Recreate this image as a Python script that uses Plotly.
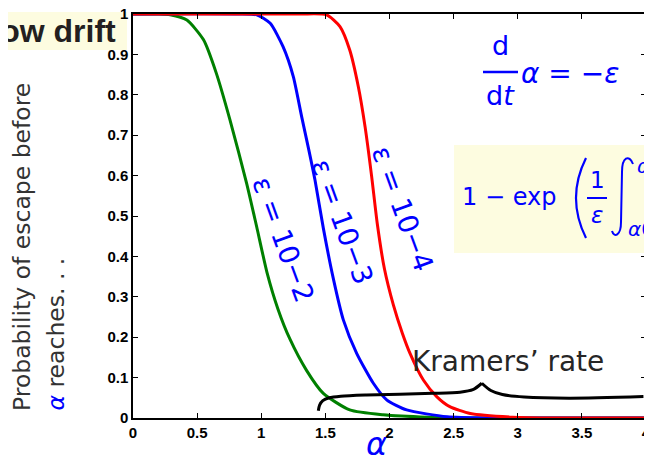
import plotly.graph_objects as go

# ---------------- data ----------------
green_x = [0, 0.2, 0.29, 0.42, 0.55, 0.65, 0.756, 0.886, 0.964, 1.045, 1.13, 1.224, 1.353, 1.484, 1.69, 1.95, 2.3, 2.7, 4.0]
green_y = [1, 1, 0.998, 0.985, 0.936, 0.853, 0.738, 0.581, 0.474, 0.36, 0.27, 0.195, 0.118, 0.061, 0.020, 0.008, 0.002, 0.0, 0.0]

blue_x = [0, 0.8, 0.965, 1.07, 1.17, 1.25, 1.315, 1.37, 1.419, 1.484, 1.562, 1.64, 1.744, 1.874, 1.978, 2.134, 2.45, 2.8, 4.0]
blue_y = [1, 1, 0.998, 0.977, 0.919, 0.845, 0.746, 0.665, 0.589, 0.47, 0.345, 0.243, 0.160, 0.086, 0.045, 0.020, 0.003, 0.0, 0.0]

red_x = [0, 1.3, 1.51, 1.614, 1.69, 1.757, 1.81, 1.86, 1.905, 1.96, 2.03, 2.10, 2.16, 2.264, 2.368, 2.47, 2.63, 2.96, 3.3, 4.0]
red_y = [1, 1, 0.998, 0.969, 0.911, 0.820, 0.72, 0.60, 0.48, 0.37, 0.28, 0.21, 0.16, 0.094, 0.053, 0.028, 0.011, 0.002, 0.0, 0.0]

brace_left_x = [1.445, 1.455, 1.48, 1.53, 1.62, 1.82, 2.34, 2.55, 2.65, 2.72]
brace_left_y = [0.018, 0.032, 0.043, 0.050, 0.054, 0.057, 0.061, 0.064, 0.070, 0.086]
brace_right_x = [2.72, 2.79, 2.88, 3.05, 3.4, 3.98]
brace_right_y = [0.086, 0.068, 0.058, 0.052, 0.049, 0.053]

x_tick_vals = [0, 0.5, 1, 1.5, 2, 2.5, 3, 3.5, 4]
x_tick_text = ["0", "0.5", "1", "1.5", "2", "2.5", "3", "3.5", "4"]
y_tick_vals = [0, 0.1, 0.2, 0.3, 0.4, 0.5, 0.6, 0.7, 0.8, 0.9, 1]
y_tick_text = ["0", "0.1", "0.2", "0.3", "0.4", "0.5", "0.6", "0.7", "0.8", "0.9", "1"]

series_labels = ["ε = 10−2", "ε = 10−3", "ε = 10−4"]
label_x = [1.177, 1.637, 2.105]
label_y = [0.441, 0.485, 0.517]

# ---------------- layout helpers ----------------
# the page body adds an 8px offset; the figure is sized to fit the window and
# margins are chosen so that the plot area lands at screen x 133..646, y 14..418
W, H = 644, 452
ML, MR, MT, MB = 125, 6, 6, 42
PW = W - ML - MR
PH = H - MT - MB
SX0, SY1 = 133, 418  # screen position of paper origin


def px(x):
    return (x - SX0) / PW


def py(y):
    return (SY1 - y) / PH


def path(points, cmds):
    out = []
    i = 0
    for c, n in cmds:
        seg = " ".join(f"{px(points[i + k][0]):.5f},{py(points[i + k][1]):.5f}" for k in range(n))
        out.append(f"{c} {seg}")
        i += n
    return " ".join(out)


BLUE = "#0000ff"
DJ = "DejaVu Sans"

fig = go.Figure()
for xs, ys, col in [(green_x, green_y, "#008000"), (blue_x, blue_y, BLUE), (red_x, red_y, "#ff0000")]:
    fig.add_trace(go.Scatter(x=xs, y=ys, mode="lines",
                             line=dict(color=col, width=3, shape="spline", smoothing=0.6),
                             hoverinfo="skip", showlegend=False))
for xs, ys in [(brace_left_x, brace_left_y), (brace_right_x, brace_right_y)]:
    fig.add_trace(go.Scatter(x=xs, y=ys, mode="lines",
                             line=dict(color="black", width=3, shape="spline", smoothing=0.8),
                             hoverinfo="skip", showlegend=False))

ann = []
for t, lx, ly in zip(series_labels, label_x, label_y):
    ann.append(dict(x=lx, y=ly, xref="x", yref="y", text=t, showarrow=False, textangle=70,
                    xanchor="center", yanchor="middle",
                    font=dict(family=DJ, size=27.5, color=BLUE)))

ann.append(dict(x=2.924, y=0.139, xref="x", yref="y", text="Kramers’ rate", showarrow=False,
                xanchor="center", yanchor="middle",
                font=dict(family=DJ, size=28, color="#262626")))


def pann(x, y, text, size, xa="center", ya="middle", color=BLUE, family=DJ, angle=0):
    ann.append(dict(x=px(x), y=py(y), xref="paper", yref="paper", text=text, showarrow=False,
                    xanchor=xa, yanchor=ya, textangle=angle,
                    font=dict(family=family, size=size, color=color)))


# y-axis title (two lines)
pann(22, 413, "Probability of escape before", 23.5, ya="bottom", color="#333333", angle=-90)
pann(55, 413, '<span style="color:#0000ff"><i>α</i></span> reaches. . .', 23.5, ya="bottom",
     color="#333333", angle=-90)
# x-axis title
pann(376, 444, "<i>α</i>", 32)

# slow drift label
pann(118, 31, "<b>Slow drift</b>", 32, xa="right", color="#231f20", family="Liberation Sans")

# formula d/dt a = -eps
pann(500, 46, "d", 27)
pann(500, 96, "d<i>t</i>", 27)
pann(519, 73, "<i>α</i> = −<i>ε</i>", 28, xa="left")

# formula 1 - exp(1/eps int)
pann(460, 197, "1 − exp", 24, xa="left")
pann(597, 180, "1", 23)
pann(597, 215, "<i>ε</i>", 23)
pann(635, 166, "<i>α</i>", 20, xa="left")
pann(626, 229, "<i>α</i>0", 20, xa="left")

shapes = [
    dict(type="rect", xref="paper", yref="paper", x0=px(-20), x1=px(127), y0=py(50), y1=py(12),
         fillcolor="#fdfce0", line=dict(width=0), layer="below"),
    dict(type="line", xref="paper", yref="paper", x0=px(483), x1=px(518), y0=py(72), y1=py(72),
         line=dict(color=BLUE, width=2.5), layer="above"),
    dict(type="rect", xref="paper", yref="paper", x0=px(454), x1=px(670), y0=py(253), y1=py(145),
         fillcolor="#fdfce0", line=dict(width=0), layer="above"),
    dict(type="path", xref="paper", yref="paper",
         path=path([(586, 158), (566, 198), (586, 238)], [("M", 1), ("Q", 2)]),
         line=dict(color=BLUE, width=2.2), layer="above"),
    dict(type="line", xref="paper", yref="paper", x0=px(587), x1=px(607), y0=py(198), y1=py(198),
         line=dict(color=BLUE, width=2), layer="above"),
    dict(type="path", xref="paper", yref="paper",
         path=path([(633, 164), (629, 154), (622, 157), (622, 172), (621, 222),
                    (621, 236), (614, 238), (612, 231)],
                   [("M", 1), ("C", 3), ("L", 1), ("C", 3)]),
         line=dict(color=BLUE, width=2), layer="above"),
]

axis_common = dict(showline=True, linecolor="black", linewidth=1.5, mirror="ticks",
                   ticks="inside", ticklen=5, tickcolor="black", tickwidth=1,
                   showgrid=False, zeroline=False, ticklabeloverflow="allow", automargin=False,
                   tickfont=dict(family="Liberation Sans", size=15, color="black", weight="bold"))

fig.update_layout(
    width=W, height=H,
    margin=dict(l=ML, r=MR, t=MT, b=MB, pad=0, autoexpand=False),
    paper_bgcolor="white", plot_bgcolor="white",
    xaxis=dict(range=[0, 4], tickvals=x_tick_vals, ticktext=x_tick_text, **axis_common),
    yaxis=dict(range=[0, 1], tickvals=y_tick_vals, ticktext=y_tick_text, **axis_common),
    annotations=ann, shapes=shapes, showlegend=False,
)

fig.write_html("out.html")
